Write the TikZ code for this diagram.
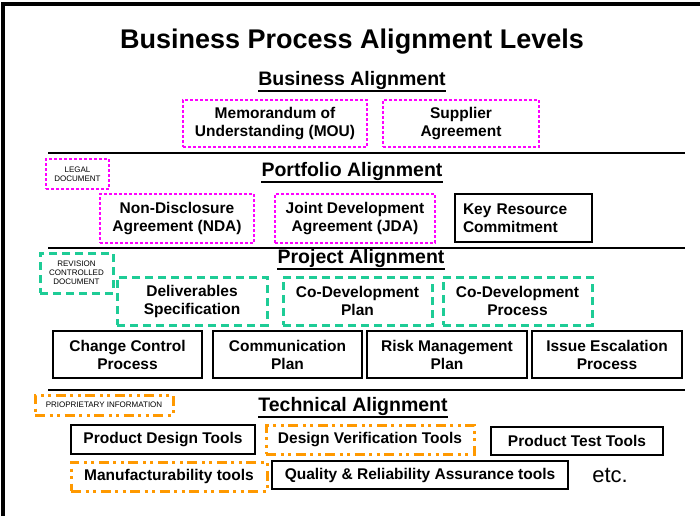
\documentclass[tikz,border=0pt]{standalone}
\usepackage{fontspec}
\setmainfont{Liberation Sans}

\definecolor{legalpink}{RGB}{255,0,255}
\definecolor{revgreen}{RGB}{30,204,150}
\definecolor{proporange}{RGB}{255,153,0}

\tikzset{
	box/.style={draw, line width=2.2pt, align=center, inner sep=2pt,
		font=\fontsize{15.5}{18}\selectfont\bfseries},
	legal/.style={box, draw=legalpink, line width=2.6pt, dash pattern=on 2.6pt off 2.4pt},
	revision/.style={box, draw=revgreen, line width=3pt, dash pattern=on 8pt off 5pt},
	proprietary/.style={box, draw=proporange, line width=3pt,
		dash pattern=on 10pt off 4.5pt on 3pt off 4.5pt on 3pt off 4.5pt},
	plain/.style={box, draw=black, line width=2.6pt},
	tag/.style={font=\fontsize{8}{9}\selectfont, inner sep=1pt},
	level/.style={font=\fontsize{19.5}{22}\selectfont\bfseries, inner sep=0pt, anchor=base},
	underl/.style={line width=2.4pt},
	sep/.style={line width=2.8pt},
}

\begin{document}
\begin{tikzpicture}[x=1pt, y=-1pt]

		% === page bounds ===
		\def\xl{48}	\def\xr{685}
		\useasboundingbox (0,0) rectangle (700,516);
		\draw[line width=3.5pt] (3,516) -- (3,4) -- (700,4);

		% === Title and level headings ===
		\node[font=\fontsize{27}{30}\selectfont\bfseries, anchor=base] (title) at (352,49) {Business Process Alignment Levels};
		\node[level] (hbus)  at (352,85)  {Business Alignment};
		\node[level] (hport) at (352,176) {Portfolio Alignment};
		\node[level] (hproj) at (361,263) {Project Alignment};
		\node[level] (htech) at (353,411) {Technical Alignment};
		\foreach \h in {hbus,hport,hproj,htech}
			\draw[underl] ([yshift=-6pt]\h.base west) -- ([yshift=-6pt]\h.base east);

		% === Level separators ===
		\foreach \y in {153, 248, 390}
			\draw[sep] (\xl,\y) -- (\xr,\y);

		% === Business level ===
		\node[legal, minimum width=184pt, minimum height=47pt] (mou)  at (275,123.5) {Memorandum of\\Understanding (MOU)};
		\node[legal, minimum width=156pt, minimum height=47pt] (supp) at (461,123.5) {Supplier\\Agreement};

		% === Portfolio level ===
		\node[legal, tag, minimum width=63pt, minimum height=30pt] (legal) at (77.5,174) {LEGAL\\DOCUMENT};
		\node[legal, minimum width=154pt, minimum height=49pt] (nda) at (177,218.5) {Non-Disclosure\\Agreement (NDA)};
		\node[legal, minimum width=160pt, minimum height=49pt] (jda) at (355,218.5) {Joint Development\\Agreement (JDA)};
		\node[plain, align=left, text width=121pt, inner xsep=8pt, minimum height=48pt] (keyres) at (523.5,218) {Key Resource\\Commitment};

		% === Project level ===
		\node[revision, tag, minimum width=73pt, minimum height=40pt] (revis) at (76.5,273) {REVISION\\CONTROLLED\\DOCUMENT};
		\node[revision, minimum width=150pt, minimum height=48pt] (deliv)   at (192,301)   {Deliverables\\Specification};
		\node[revision, minimum width=149pt, minimum height=48pt] (cdplan)  at (357.5,301) {Co-Development\\Plan};
		\node[revision, minimum width=149pt, minimum height=48pt] (cdproc)  at (517.5,301) {Co-Development\\Process};
		\node[plain, minimum width=149pt, minimum height=47pt] (change) at (127.5,354.5) {Change Control\\Process};
		\node[plain, minimum width=149pt, minimum height=47pt] (comm)   at (287.5,354.5) {Communication\\Plan};
		\node[plain, minimum width=160pt, minimum height=47pt] (risk)   at (447,354.5)   {Risk Management\\Plan};
		\node[plain, minimum width=150pt, minimum height=47pt] (issue)  at (607,354.5)   {Issue Escalation\\Process};

		% === Technical level ===
		\node[proprietary, tag, minimum width=138pt, minimum height=20pt] (propr) at (104,405) {PRIOPRIETARY INFORMATION};
		\node[plain, minimum width=184pt, minimum height=29pt] (pdtools)   at (163,439.5) {Product Design Tools};
		\node[proprietary, minimum width=208pt, minimum height=29pt] (dvtools) at (370,439.5) {Design Verification Tools};
		\node[plain, minimum width=172pt, minimum height=28pt] (pttools)   at (577,441)   {Product Test Tools};
		\node[proprietary, minimum width=196pt, minimum height=29pt] (mftools) at (169,476.5) {Manufacturability tools};
		\node[plain, minimum width=296pt, minimum height=28pt] (qrtools)   at (420,475)   {Quality \& Reliability Assurance tools};
		\node[font=\fontsize{22}{24}\selectfont, anchor=base] (etc) at (610,482) {etc.};
	\end{tikzpicture}
\end{document}
